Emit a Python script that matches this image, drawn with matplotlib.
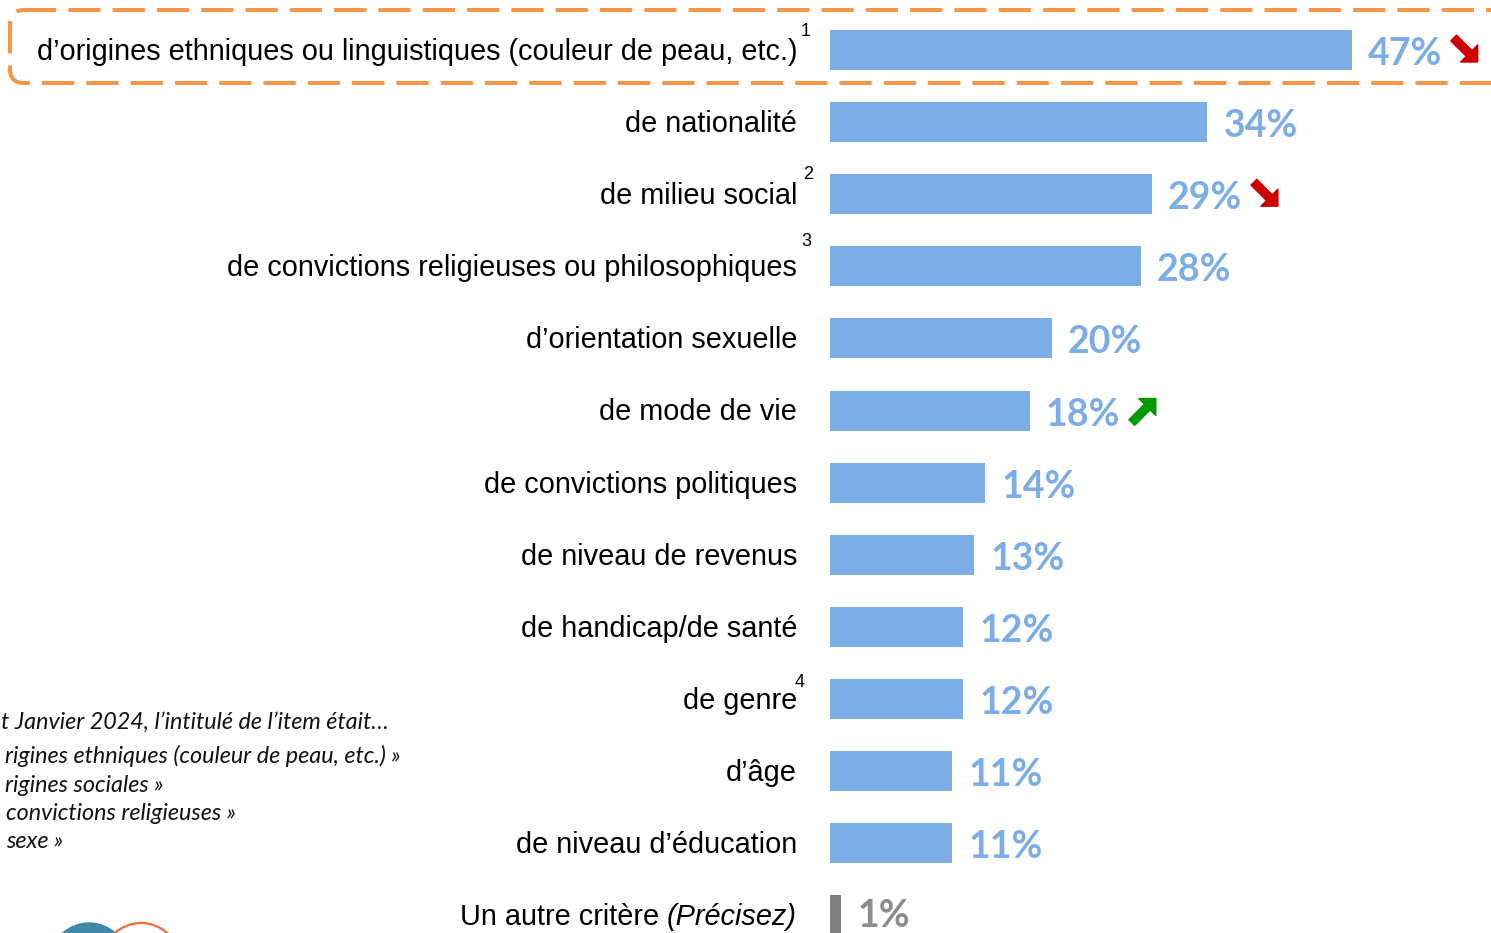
import matplotlib
matplotlib.use("Agg")
import matplotlib.pyplot as plt
from matplotlib.patches import FancyBboxPatch, Circle
from matplotlib.transforms import offset_copy

# data (percent of respondents)
labels = [
    "d’origines ethniques ou linguistiques (couleur de peau, etc.)",
    "de nationalité",
    "de milieu social",
    "de convictions religieuses ou philosophiques",
    "d’orientation sexuelle",
    "de mode de vie",
    "de convictions politiques",
    "de niveau de revenus",
    "de handicap/de santé",
    "de genre",
    "d’âge",
    "de niveau d’éducation",
    "Un autre critère",
]
values = [47, 34, 29, 28, 20, 18, 14, 13, 12, 12, 11, 11, 1]
# trend vs previous wave: -1 down, +1 up, 0 none
trends = [-1, 0, -1, 0, 0, 1, 0, 0, 0, 0, 0, 0, 0]
footnote_marks = {0: "1", 2: "2", 3: "3", 9: "4"}
# footnote lines, as much as is visible in the cropped slide
footnotes = [
    "t Janvier 2024, l’intitulé de l’item était…",
    "rigines ethniques (couleur de peau, etc.) »",
    "rigines sociales »",
    "convictions religieuses »",
    "sexe »",
]

BLUE = "#7DADE6"
GREY = "#7F7F7F"
W, H = 1491, 933
PX_PER_PCT = 11.1
X0 = 830          # pixel where bars start
ROW0, ROW_STEP = 50, 72.1

fig = plt.figure(figsize=(W / 100, H / 100), dpi=100)

# overlay in pixel coordinates for decorations
ov = fig.add_axes([0, 0, 1, 1], zorder=0)
ov.set_xlim(0, W)
ov.set_ylim(H, 0)
ov.axis("off")

box = FancyBboxPatch((10, 10), 1600, 73, boxstyle="round,pad=0,rounding_size=14",
                     fill=False, ec="#F79646", lw=2.9, linestyle=(0, (8, 3)))
ov.add_patch(box)

ov.add_patch(Circle((89, 962), 39, color="#3F88A8"))
ov.add_patch(Circle((141, 962), 39, fill=False, ec="#F26B3A", lw=1.6))

foot_pos = [(1, 722), (5, 756), (5, 786), (6, 814), (6, 842)]
for txt, (fx, fy) in zip(footnotes, foot_pos):
    ov.text(fx, fy, txt, ha="left", va="center", fontsize=16.8,
            family="Lato", style="italic", color="#111111")

# main bar axes
ax = fig.add_axes([0, 0, 1, 1], zorder=1)
ax.patch.set_alpha(0)
ax.set_xlim(-X0 / PX_PER_PCT, (W - X0) / PX_PER_PCT)
ax.set_ylim((H - ROW0) / ROW_STEP, -ROW0 / ROW_STEP)
ax.axis("off")

n = len(values)
ypos = list(range(n))
colors = [BLUE] * (n - 1) + [GREY]
ax.barh(ypos, values, height=40 / ROW_STEP, color=colors)

lab_font = dict(family="Liberation Sans", fontsize=20.8, color="black")
for i, (lab, v) in enumerate(zip(labels, values)):
    if i == n - 1:
        it = ax.annotate("(Précisez)", xy=(0, i), xytext=(-33, -2),
                         textcoords="offset pixels", ha="right", va="center",
                         style="italic", **lab_font)
        fig.canvas.draw()
        wpx = it.get_window_extent().width
        ax.annotate(lab + " ", xy=(0, i), xytext=(-33 - wpx, -2),
                    textcoords="offset pixels", ha="right", va="center", **lab_font)
    else:
        ax.annotate(lab, xy=(0, i), xytext=(-33, -2), textcoords="offset pixels",
                    ha="right", va="center", **lab_font)

    pct_col = "#8c8c8c" if i == n - 1 else BLUE
    dy = -1 if i == n - 1 else -4
    ax.annotate(f"{v}%", xy=(v, i), xytext=(16, dy), textcoords="offset pixels",
                ha="left", va="center", family="Lato", fontweight="bold",
                fontsize=27, color=pct_col)

    t = trends[i]
    if t != 0:
        col = "#CC0000" if t < 0 else "#009900"
        tip = offset_copy(ax.transData, fig=fig, x=126, y=12 * t, units="dots")
        tail = offset_copy(ax.transData, fig=fig, x=102, y=-12 * t, units="dots")
        ax.annotate("", xy=(v, i), xycoords=tip, xytext=(v, i), textcoords=tail,
                    arrowprops=dict(arrowstyle="simple,head_length=0.62,head_width=1.24,tail_width=0.42",
                                    color=col, mutation_scale=14, shrinkA=0, shrinkB=0))

mark_offsets = {0: (-24, 18), 2: (-22, 20), 3: (-24, 25), 9: (-30, 16)}
for i, m in footnote_marks.items():
    dx, dy = mark_offsets[i]
    ax.annotate(m, xy=(0, i), xytext=(dx, dy), textcoords="offset pixels",
                ha="center", va="center", family="Liberation Sans", fontsize=13)

fig.savefig("out.png", dpi=100)
